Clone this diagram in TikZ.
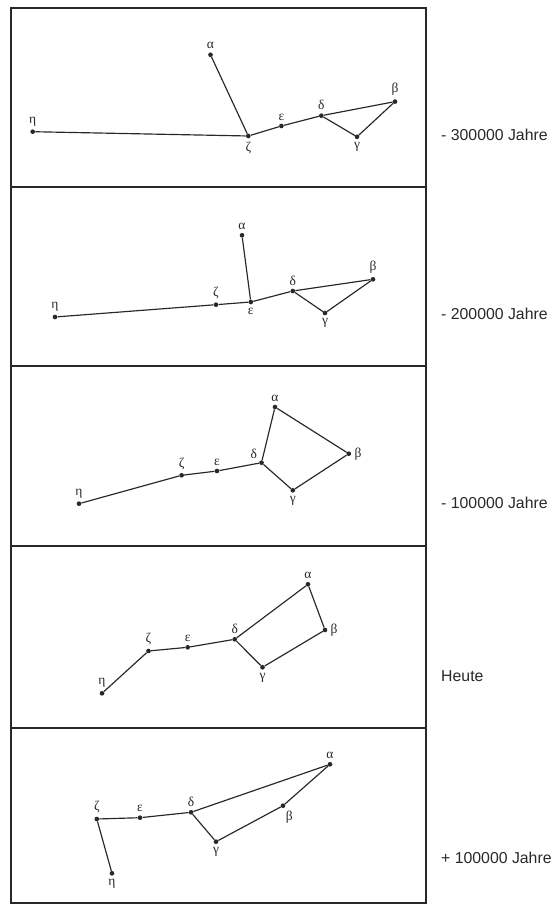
\documentclass[tikz,border=0pt]{standalone}
\usepackage{fontspec}
\setmainfont{Liberation Sans}
\newfontfamily\greekface{Liberation Serif}
\usetikzlibrary{positioning}
\definecolor{inkgray}{RGB}{40,40,40}
\tikzset{
  star/.style={circle, fill=inkgray, draw=none, inner sep=0pt, minimum size=0.14cm},
  lbl/.style={font=\greekface\fontsize{11.5}{12}\selectfont, text=inkgray, inner sep=1pt, label distance=1.5pt},
  conn/.style={draw=inkgray, line width=1pt},
  frame/.style={draw=inkgray, line width=1.1pt},
  epoch/.style={font=\fontsize{13.5}{15}\selectfont, text=inkgray, anchor=west, inner sep=0pt}
}

\begin{document}
\begin{tikzpicture}[x=0.03cm, y=-0.03cm]
  \useasboundingbox (0,0) rectangle (558,907);

  %% panel frames
  \draw[frame] (11,8) rectangle (426,187);
  \draw[frame] (11,187) rectangle (426,366);
  \draw[frame] (11,366) rectangle (426,546);
  \draw[frame] (11,546) rectangle (426,728);
  \draw[frame] (11,728) rectangle (426,903);

  %% -300000 years
  \foreach \n/\g/\x/\y/\p in {a/α/210.5/54.8/above, b/β/395/101.6/above, g/γ/357/136.8/below,
      d/δ/321.3/115.7/above, e/ε/281.4/126/above, z/ζ/248.3/136/below, h/η/32.7/131.7/above}
    \node[star, label={[lbl]\p:\g}] (s1\n) at (\x,\y) {};
  \foreach \u/\v in {h/z, a/z, z/e, e/d, d/b, b/g, g/d}
    \draw[conn] (s1\u) -- (s1\v);
  \node[epoch] (t1) at (441,135) {- 300000 Jahre};

  %% -200000 years
  \foreach \n/\g/\x/\y/\p in {a/α/242/235.3/above, b/β/373/279.3/above, g/γ/325/313/below,
      d/δ/292.8/291/above, e/ε/250.8/302/below, z/ζ/216/304.7/above, h/η/55/317/above}
    \node[star, label={[lbl]\p:\g}] (s2\n) at (\x,\y) {};
  \foreach \u/\v in {h/z, z/e, a/e, e/d, d/b, b/g, g/d}
    \draw[conn] (s2\u) -- (s2\v);
  \node[epoch] (t2) at (441,314) {- 200000 Jahre};

  %% -100000 years
  \foreach \n/\g/\x/\y/\p in {a/α/275/407/above, b/β/348.8/453.7/right, g/γ/292.8/490.3/below,
      d/δ/261.5/462.7/above left, e/ε/217/471/above, z/ζ/181.6/475.3/above, h/η/79/503.7/above}
    \node[star, label={[lbl]\p:\g}] (s3\n) at (\x,\y) {};
  \foreach \u/\v in {h/z, z/e, e/d, d/a, a/b, b/g, g/d}
    \draw[conn] (s3\u) -- (s3\v);
  \node[epoch] (t3) at (441,503) {- 100000 Jahre};

  %% today
  \foreach \n/\g/\x/\y/\p in {a/α/308/584.3/above, b/β/325/630/right, g/γ/262.5/667.3/below,
      d/δ/234.7/639.3/above, e/ε/187.7/647.3/above, z/ζ/148.5/651/above, h/η/102/693.3/above}
    \node[star, label={[lbl]\p:\g}] (s4\n) at (\x,\y) {};
  \foreach \u/\v in {h/z, z/e, e/d, d/a, a/b, b/g, g/d}
    \draw[conn] (s4\u) -- (s4\v);
  \node[epoch] (t4) at (441,676) {Heute};

  %% +100000 years
  \foreach \n/\g/\x/\y/\p in {a/α/330/764.3/above, b/β/283/805.7/-70, g/γ/216/841.7/below,
      d/δ/191/812.3/above, e/ε/140/817.7/above, z/ζ/96.8/819/above, h/η/112/873.3/below}
    \node[star, label={[lbl]\p:\g}] (s5\n) at (\x,\y) {};
  \foreach \u/\v in {h/z, z/e, e/d, d/a, a/b, b/g, g/d}
    \draw[conn] (s5\u) -- (s5\v);
  \node[epoch] (t5) at (441,858) {+ 100000 Jahre};
\end{tikzpicture}
\end{document}
